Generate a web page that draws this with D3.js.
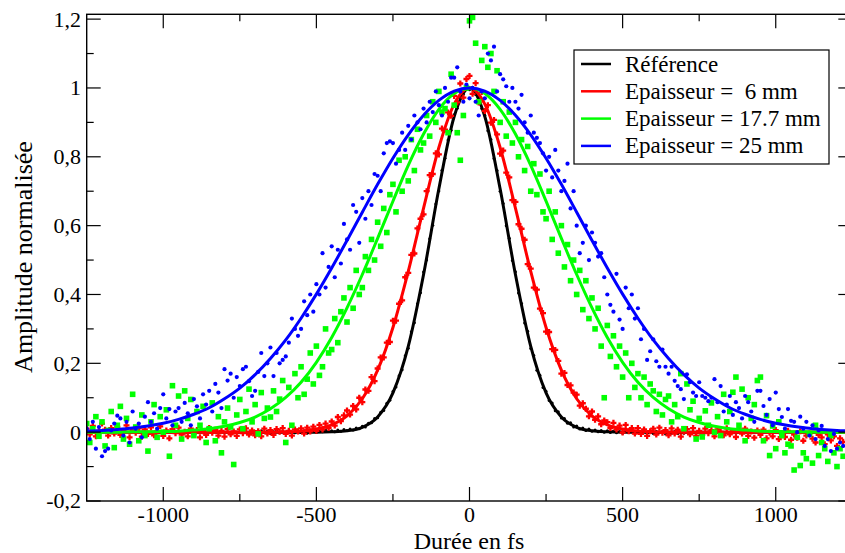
<!DOCTYPE html>
<html><head><meta charset="utf-8">
<script src="https://cdn.jsdelivr.net/npm/d3@7"></script>
<style>body{margin:0;background:#fff}svg{display:block}</style>
</head><body><svg id="c" width="845" height="553"></svg>
<script>
// ---------------- DATA ----------------
const seriesNames = ["Référence", "Epaisseur =  6 mm", "Epaisseur = 17.7 mm", "Epaisseur = 25 mm"];
const seriesColors = ["#000000", "#ff0000", "#00ff00", "#0000ff"];
const xMajorTicks = [-1000, -500, 0, 500, 1000];
const xMinorTicks = [-750, -250, 250, 750];
const yMajorTicks = [-0.2, 0, 0.2, 0.4, 0.6, 0.8, 1, 1.2];
const yTickLabels = ["-0,2", "0", "0,2", "0,4", "0,6", "0,8", "1", "1,2"];
const yMinorTicks = [-0.1, 0.1, 0.3, 0.5, 0.7, 0.9, 1.1];

// fitted curves, sampled every 50 fs from -1250 to 1250
const fitX = d3.range(-1250, 1251, 50);
const fitBlack = [0,0,0,0,0,0,0,0,0,0,0,0,0,0,0,0,
  0.001,0.004,0.014,0.044,0.114,0.249,0.458,0.707,0.917,1,
  0.917,0.707,0.458,0.249,0.114,0.044,0.014,0.004,0.001,
  0,0,0,0,0,0,0,0,0,0,0,0,0,0,0,0];
const fitRed = [0,0,0,0,0,0,0,0,0,0,0,0,0,
  0.001,0.003,0.009,0.021,0.047,0.097,0.180,0.304,0.467,0.651,0.827,0.953,1,
  0.953,0.827,0.651,0.467,0.304,0.180,0.097,0.047,0.021,0.009,0.003,0.001,
  0,0,0,0,0,0,0,0,0,0,0,0,0];
const fitGreen = [0,0,0,0.001,0.001,0.002,0.003,0.006,0.010,0.017,0.028,0.044,0.068,0.101,0.145,0.203,0.275,0.361,0.458,0.563,0.671,0.775,0.866,0.938,0.984,1,
  0.984,0.938,0.866,0.775,0.671,0.563,0.458,0.361,0.275,0.203,0.145,0.101,0.068,0.044,0.028,0.017,0.010,0.006,0.003,0.002,0.001,0.001,0,0,0];
const fitBlue = [0.003,0.005,0.008,0.012,0.018,0.026,0.037,0.052,0.071,0.097,0.128,0.167,0.214,0.268,0.331,0.401,0.477,0.557,0.639,0.720,0.796,0.864,0.921,0.964,0.991,1,
  0.991,0.964,0.921,0.864,0.796,0.720,0.639,0.557,0.477,0.401,0.331,0.268,0.214,0.167,0.128,0.097,0.071,0.052,0.037,0.026,0.018,0.012,0.008,0.005,0.003];

// measured points
const blackX = d3.range(-700, 701, 10);
const blackY = [
  0.002,-0.003,0.004,-0.001,0.003,-0.004,0.001,0.005,-0.002,0.002,
  -0.003,0.004,0.000,-0.002,0.003,-0.001,0.004,-0.003,0.002,0.005,
  -0.001,0.003,0.001,0.006,0.002,0.004,0.001,0.006,0.003,0.008,
  0.005,0.009,0.006,0.012,0.010,0.017,0.015,0.026,0.027,0.040,
  0.042,0.058,0.063,0.084,0.093,0.118,0.131,0.164,0.181,0.222,
  0.244,0.292,0.318,0.373,0.405,0.465,0.500,0.562,0.601,0.663,
  0.701,0.761,0.796,0.849,0.877,0.922,0.941,0.973,0.982,1.001,
  0.995,1.002,0.981,0.974,0.940,0.921,0.876,0.850,0.795,0.760,
  0.700,0.664,0.600,0.563,0.499,0.466,0.404,0.374,0.317,0.293,
  0.243,0.223,0.180,0.165,0.130,0.119,0.092,0.085,0.062,0.059,
  0.041,0.040,0.026,0.027,0.015,0.018,0.009,0.012,0.005,0.009,
  0.003,0.006,0.001,0.005,0.000,0.004,-0.001,0.003,-0.002,0.002,
  -0.003,0.003,-0.001,0.002,-0.004,0.001,-0.002,0.003,-0.003,0.000,
  -0.004,0.002,-0.002,0.001,-0.005,0.000,-0.003,0.002,-0.004,-0.001,
  -0.003];

const scatX = d3.range(-1250, 1221, 10);
const redY = [
  0.010,-0.006,0.018,-0.012,0.004,0.025,0.007,-0.010,0.012,-0.004,
  0.015,-0.008,0.003,0.020,-0.015,0.006,-0.002,0.011,-0.013,0.008,
  -0.005,0.014,-0.009,0.002,0.017,-0.011,0.005,-0.018,0.009,-0.003,
  0.013,-0.007,0.001,-0.012,0.010,-0.004,0.006,-0.015,0.003,-0.008,
  0.012,-0.002,0.007,-0.010,0.004,-0.013,0.009,-0.006,0.002,-0.011,
  0.008,-0.003,0.011,-0.007,0.005,-0.009,0.003,-0.012,0.010,-0.004,
  0.006,-0.008,0.009,0.001,0.012,-0.005,0.004,-0.010,0.008,0.002,
  0.011,-0.004,0.013,0.002,0.016,0.004,0.021,0.008,0.025,0.012,
  0.031,0.019,0.044,0.032,0.049,0.063,0.051,0.076,0.066,0.100,
  0.087,0.124,0.120,0.160,0.148,0.185,0.217,0.217,0.260,0.262,
  0.324,0.324,0.373,0.383,0.450,0.463,0.515,0.519,0.592,0.620,
  0.633,0.700,0.747,0.750,0.810,0.807,0.882,0.879,0.929,0.919,
  0.977,0.958,1.013,0.972,1.026,1.035,0.983,1.014,0.958,0.988,
  0.933,0.950,0.899,0.907,0.865,0.809,0.818,0.754,0.740,0.674,
  0.669,0.604,0.591,0.559,0.488,0.475,0.420,0.414,0.359,0.346,
  0.292,0.291,0.241,0.239,0.207,0.170,0.172,0.137,0.136,0.115,
  0.109,0.077,0.084,0.068,0.046,0.060,0.036,0.046,0.023,0.034,
  0.029,0.012,0.027,0.008,0.019,-0.001,0.021,0.003,0.012,-0.004,
  0.012,-0.005,0.008,-0.011,0.003,0.010,-0.007,0.013,-0.002,0.006,
  -0.009,0.011,-0.004,0.007,-0.013,0.002,0.009,-0.006,0.012,-0.010,
  0.004,-0.008,0.010,-0.003,0.006,-0.012,0.008,0.001,-0.009,0.011,
  -0.006,0.003,-0.014,0.008,-0.004,0.010,-0.011,0.002,-0.016,0.005,
  -0.008,0.007,-0.018,-0.002,-0.012,0.006,-0.020,-0.005,-0.014,0.004,
  -0.022,-0.007,-0.016,0.003,-0.025,-0.010,-0.004,-0.019,-0.030,-0.008,
  -0.015,-0.035,-0.006,-0.024,-0.012,-0.040,-0.018,-0.028];
const greenY = [
  0.025,-0.030,0.010,0.045,-0.012,0.030,-0.040,0.005,0.060,-0.045,
  0.020,0.075,-0.020,0.040,-0.035,0.110,0.015,-0.025,0.050,-0.010,
  -0.055,0.030,0.080,-0.015,0.045,0.000,0.065,-0.070,0.135,0.020,
  0.105,-0.020,0.120,0.040,0.095,-0.010,0.060,0.020,0.075,-0.030,
  0.010,0.085,-0.025,0.045,-0.060,0.030,0.070,0.015,-0.094,0.050,
  0.095,0.010,0.060,0.125,0.030,0.080,-0.005,0.115,0.040,0.070,
  0.044,0.120,0.060,0.096,0.150,-0.030,0.130,0.020,0.170,0.100,
  0.190,0.110,0.154,0.230,0.140,0.250,0.165,0.190,0.300,0.230,
  0.240,0.330,0.260,0.350,0.390,0.320,0.420,0.360,0.470,0.400,
  0.420,0.510,0.470,0.560,0.500,0.610,0.540,0.650,0.580,0.690,
  0.720,0.640,0.790,0.700,0.800,0.730,0.850,0.760,0.880,0.820,
  0.840,0.920,0.860,0.960,0.900,0.990,0.930,0.940,0.870,1.040,
  0.950,0.870,0.790,0.920,1.000,1.195,1.205,1.130,0.960,1.080,
  1.120,1.060,1.100,0.990,1.050,0.900,0.960,0.860,0.930,0.840,
  0.900,0.800,0.850,0.760,0.830,0.700,0.780,0.690,0.750,0.640,
  0.620,0.700,0.560,0.640,0.520,0.600,0.480,0.545,0.440,0.500,
  0.400,0.470,0.356,0.440,0.330,0.390,0.300,0.360,0.250,0.100,
  0.310,0.220,0.280,0.190,0.250,0.160,0.230,0.100,0.200,0.130,
  0.170,0.100,0.160,0.080,0.140,0.120,0.060,0.110,0.050,0.095,
  0.105,0.030,0.080,0.045,0.170,0.010,0.140,0.065,0.090,-0.020,
  0.040,-0.014,0.062,0.020,0.085,0.000,0.045,-0.010,0.110,0.030,
  0.060,0.116,0.160,0.020,0.125,-0.025,0.100,0.040,0.080,0.150,
  0.160,-0.025,0.048,-0.068,0.018,-0.048,0.030,-0.010,-0.060,-0.035,
  -0.040,-0.110,-0.015,-0.097,-0.060,-0.077,-0.005,-0.090,0.020,-0.068,
  -0.030,-0.048,-0.085,-0.010,-0.060,-0.100,-0.048,-0.070];
const blueY = [
  0.010,-0.020,0.030,-0.048,0.015,-0.070,-0.055,-0.048,0.005,0.025,
  0.048,0.040,-0.010,0.030,-0.030,0.060,0.010,0.025,-0.015,0.045,
  0.087,0.030,0.055,0.010,0.070,0.110,0.040,0.067,0.020,0.060,
  0.070,0.030,0.085,0.055,0.020,0.096,0.075,0.040,0.110,0.080,
  0.120,0.060,0.140,0.115,0.070,0.183,0.150,0.170,0.100,0.160,
  0.134,0.183,0.190,0.148,0.105,0.120,0.175,0.230,0.163,0.200,
  0.246,0.163,0.230,0.200,0.210,0.220,0.260,0.330,0.300,0.280,
  0.300,0.380,0.340,0.400,0.350,0.430,0.400,0.520,0.420,0.480,
  0.540,0.450,0.530,0.490,0.605,0.560,0.530,0.660,0.640,0.550,
  0.680,0.620,0.700,0.660,0.750,0.745,0.700,0.810,0.840,0.845,
  0.840,0.780,0.820,0.870,0.820,0.890,0.850,0.920,0.900,0.880,
  0.940,0.900,0.960,0.930,0.990,0.950,0.920,1.000,0.960,1.030,
  1.030,1.060,0.990,0.960,1.010,0.970,1.000,0.960,0.920,0.990,
  0.970,1.100,1.080,1.120,0.990,1.040,1.025,1.005,0.960,1.000,
  0.960,0.940,0.980,0.900,0.870,0.920,0.870,0.855,0.840,0.810,
  0.760,0.800,0.740,0.820,0.760,0.700,0.730,0.780,0.650,0.700,
  0.600,0.520,0.550,0.600,0.500,0.580,0.550,0.510,0.520,0.450,
  0.400,0.370,0.350,0.460,0.327,0.300,0.420,0.360,0.400,0.330,
  0.360,0.270,0.300,0.210,0.235,0.270,0.206,0.190,0.240,0.190,
  0.170,0.190,0.149,0.134,0.125,0.096,0.168,0.145,0.115,0.105,
  0.145,0.105,0.100,0.090,0.100,0.154,0.087,0.134,0.060,0.080,
  0.105,0.050,0.087,0.070,0.040,0.105,0.087,0.060,0.030,0.120,
  0.120,0.076,0.050,0.096,0.020,0.115,0.067,0.044,0.010,0.067,
  0.033,0.030,0.000,0.045,0.010,0.030,-0.010,0.020,-0.020,0.005,
  0.018,-0.040,-0.020,-0.055,-0.005,-0.048,-0.030,-0.040];

// ---------------- DRAW ----------------
const FONT = "'Liberation Serif', 'Times New Roman', 'DejaVu Serif', serif";
const svg = d3.select("#c").attr("font-family", FONT);
const L = 86.7, R = 852.3, T = 14.3, B = 501;
const x = d3.scaleLinear().domain([-1250, 1250]).range([L, R]);
const y = d3.scaleLinear().domain([-0.2, 1.214]).range([B, T]);

svg.append("defs").append("clipPath").attr("id", "clip")
  .append("rect").attr("x", L).attr("y", T).attr("width", R - L).attr("height", B - T);
const plot = svg.append("g").attr("clip-path", "url(#clip)");

const pairs = (xs, ys) => ys.map((v, i) => [xs[i], v]).filter(d => d[0] !== undefined);
const line = d3.line().x(d => x(d[0])).y(d => y(d[1])).curve(d3.curveMonotoneX);

function drawPoints(data, color, kind) {
  const g = plot.append("g");
  if (kind === "dot") {
    g.selectAll("circle").data(data).join("circle")
      .attr("cx", d => x(d[0])).attr("cy", d => y(d[1])).attr("r", 1.5).attr("fill", color);
  } else if (kind === "plus") {
    g.selectAll("path").data(data).join("path")
      .attr("transform", d => `translate(${x(d[0])},${y(d[1])})`)
      .attr("d", "M-3,0H3M0,-3V3").attr("stroke", color).attr("stroke-width", 2.3);
  } else if (kind === "square") {
    g.selectAll("rect").data(data).join("rect")
      .attr("x", d => x(d[0]) - 2.8).attr("y", d => y(d[1]) - 2.8)
      .attr("width", 5.6).attr("height", 5.6).attr("fill", color);
  } else {
    g.selectAll("circle").data(data).join("circle")
      .attr("cx", d => x(d[0])).attr("cy", d => y(d[1])).attr("r", 2.1).attr("fill", color);
  }
}
function drawFit(vals, color) {
  plot.append("path").datum(pairs(fitX, vals)).attr("d", line)
    .attr("fill", "none").attr("stroke", color).attr("stroke-width", 3);
}

drawPoints(pairs(blackX, blackY), seriesColors[0], "dot");
drawFit(fitBlack, seriesColors[0]);
drawPoints(pairs(scatX, redY), seriesColors[1], "plus");
drawFit(fitRed, seriesColors[1]);
drawPoints(pairs(scatX, greenY), seriesColors[2], "square");
drawFit(fitGreen, seriesColors[2]);
drawPoints(pairs(scatX, blueY), seriesColors[3], "circle");
drawFit(fitBlue, seriesColors[3]);

// frame
svg.append("rect").attr("x", L).attr("y", T).attr("width", R - L).attr("height", B - T)
  .attr("fill", "none").attr("stroke", "#000").attr("stroke-width", 1.4);

// ticks (inward, mirrored)
const tk = svg.append("g").attr("stroke", "#000").attr("stroke-width", 1.2);
const MJ = 14, MN = 7;
xMajorTicks.forEach(v => {
  tk.append("line").attr("x1", x(v)).attr("x2", x(v)).attr("y1", B).attr("y2", B - MJ);
  tk.append("line").attr("x1", x(v)).attr("x2", x(v)).attr("y1", T).attr("y2", T + MJ);
});
xMinorTicks.forEach(v => {
  tk.append("line").attr("x1", x(v)).attr("x2", x(v)).attr("y1", B).attr("y2", B - MN);
  tk.append("line").attr("x1", x(v)).attr("x2", x(v)).attr("y1", T).attr("y2", T + MN);
});
yMajorTicks.forEach(v => {
  tk.append("line").attr("y1", y(v)).attr("y2", y(v)).attr("x1", L).attr("x2", L + MJ);
  tk.append("line").attr("y1", y(v)).attr("y2", y(v)).attr("x1", R).attr("x2", R - MJ);
});
yMinorTicks.forEach(v => {
  tk.append("line").attr("y1", y(v)).attr("y2", y(v)).attr("x1", L).attr("x2", L + MN);
  tk.append("line").attr("y1", y(v)).attr("y2", y(v)).attr("x1", R).attr("x2", R - MN);
});

// tick labels
xMajorTicks.forEach(v => {
  svg.append("text").attr("font-family", FONT).attr("x", x(v)).attr("y", 522).attr("text-anchor", "middle")
    .attr("font-size", 22).text(v);
});
yMajorTicks.forEach((v, i) => {
  svg.append("text").attr("font-family", FONT).attr("x", 81).attr("y", y(v)).attr("dy", "0.34em").attr("text-anchor", "end")
    .attr("font-size", 22).text(yTickLabels[i]);
});

// axis titles
svg.append("text").attr("font-family", FONT).attr("x", 469).attr("y", 548.5).attr("text-anchor", "middle")
  .attr("font-size", 24).text("Durée en fs");
svg.append("text").attr("font-family", FONT).attr("transform", "translate(31.5,257) rotate(-90)").attr("text-anchor", "middle")
  .attr("font-size", 26).text("Amplitude normalisée");

// legend
const lg = svg.append("g");
lg.append("rect").attr("x", 574).attr("y", 50).attr("width", 255).attr("height", 114)
  .attr("fill", "#fff").attr("stroke", "#000").attr("stroke-width", 1.2);
seriesNames.forEach((n, i) => {
  const yy = 64 + i * 27.3;
  lg.append("line").attr("x1", 581).attr("x2", 611).attr("y1", yy).attr("y2", yy)
    .attr("stroke", seriesColors[i]).attr("stroke-width", 2.5);
  lg.append("text").attr("font-family", FONT).attr("x", 625).attr("y", yy).attr("dy", "0.33em").attr("font-size", 23)
    .attr("xml:space", "preserve").style("white-space", "pre").text(n);
});
</script></body></html>
